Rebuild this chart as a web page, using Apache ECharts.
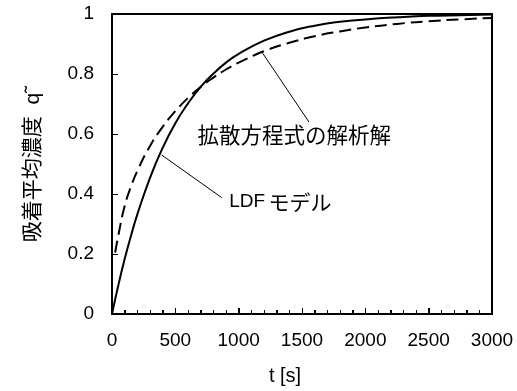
<!DOCTYPE html>
<html>
<head>
<meta charset="utf-8">
<script src="https://cdn.jsdelivr.net/npm/echarts@6/dist/echarts.min.js"></script>
<style>
html,body{margin:0;padding:0;background:#fff;}
#chart{width:517px;height:391px;}
</style>
</head>
<body>
<div id="chart"></div>
<script>
// time values [s]
const ldfTime = [0, 50, 100, 150, 200, 300, 400, 500, 600, 700, 800, 900, 1000, 1200, 1400, 1600, 1800, 2000, 2250, 2500, 2750, 3000];
// LDF model (solid)
const ldfValues = [0, 0.096, 0.183, 0.261, 0.332, 0.454, 0.554, 0.636, 0.702, 0.757, 0.801, 0.838, 0.867, 0.911, 0.941, 0.961, 0.974, 0.982, 0.989, 0.994, 0.996, 0.998];
// analytic solution of diffusion equation (dashed)
const diffTime = [25, 50, 100, 150, 200, 300, 400, 500, 600, 700, 800, 900, 1000, 1200, 1400, 1600, 1800, 2000, 2250, 2500, 2750, 3000];
const diffValues = [0.205, 0.262, 0.36, 0.425, 0.477, 0.56, 0.624, 0.676, 0.72, 0.757, 0.788, 0.815, 0.838, 0.876, 0.904, 0.926, 0.942, 0.955, 0.967, 0.976, 0.982, 0.987];
// tick settings
const xTicks = [0, 500, 1000, 1500, 2000, 2500, 3000];
const yTicks = [0, 0.2, 0.4, 0.6, 0.8, 1];
const xMinorPerMajor = 5;
// annotation texts and anchors (data coordinates)
const diffLabel = '拡散方程式の解析解';
const ldfLabel = 'LDF モデル';
const diffLeader = [[1190, 0.869], [1555, 0.640]];
const ldfLeader = [[392, 0.530], [866, 0.388]];
const diffLabelAt = [671, 0.597];
const ldfLabelAt = [922, 0.373];

const pair = (ts, vs) => ts.map((t, i) => [t, vs[i]]);
const latin = 'Arial, "Liberation Sans", sans-serif';
const cjk = '"Liberation Sans", "Noto Sans CJK JP", sans-serif';
const xMin = xTicks[0], xMax = xTicks[xTicks.length - 1];
const yMin = yTicks[0], yMax = yTicks[yTicks.length - 1];

const chart = echarts.init(document.getElementById('chart'));
chart.setOption({
  animation: false,
  grid: {left: 112, right: 25, top: 14, bottom: 77, show: true, borderColor: '#000', borderWidth: 2, backgroundColor: 'transparent'},
  xAxis: {
    type: 'value', min: xMin, max: xMax, interval: 500,
    name: 't [s]', nameLocation: 'middle', nameGap: 52,
    nameTextStyle: {fontFamily: latin, fontSize: 20, color: '#000', padding: [0, 34, 0, 0]},
    axisLine: {show: true, onZero: false, lineStyle: {color: '#000', width: 2}},
    axisTick: {show: true, inside: true, length: 6, lineStyle: {color: '#000', width: 1}},
    minorTick: {show: true, splitNumber: 5, length: 4, lineStyle: {color: '#000', width: 1}},
    axisLabel: {fontFamily: latin, fontSize: 19, color: '#000', margin: 17, formatter: v => String(v)},
    splitLine: {show: false}
  },
  yAxis: {
    type: 'value', min: yMin, max: yMax, interval: 0.2,
    name: '吸着平均濃度  q˜', nameLocation: 'middle', nameGap: 68, nameRotate: 90,
    nameTextStyle: {fontFamily: cjk, fontSize: 21, color: '#000'},
    axisLine: {show: true, onZero: false, lineStyle: {color: '#000', width: 2}},
    axisTick: {show: true, inside: true, length: 6, lineStyle: {color: '#000', width: 1}},
    axisLabel: {fontFamily: latin, fontSize: 19, color: '#000', margin: 18, formatter: v => String(Math.round(v * 10) / 10)},
    splitLine: {show: false}
  },
  series: [
    {
      type: 'line', name: 'LDF', data: pair(ldfTime, ldfValues), smooth: true, showSymbol: false,
      lineStyle: {color: '#000', width: 2}, z: 3,
      markLine: {
        silent: true, symbol: ['none', 'none'], label: {show: false},
        lineStyle: {color: '#000', width: 1, type: 'solid'},
        data: [
          [{coord: diffLeader[0]}, {coord: diffLeader[1]}],
          [{coord: ldfLeader[0]}, {coord: ldfLeader[1]}]
        ]
      },
      markPoint: {
        silent: true,
        symbol: 'circle', symbolSize: 1, itemStyle: {color: 'rgba(0,0,0,0)'},
        data: [
          {coord: diffLabelAt, label: {show: true, position: 'right', distance: 0, formatter: diffLabel,
            fontFamily: '"Noto Sans CJK JP", sans-serif', fontSize: 21.5, color: '#000'}},
          {coord: ldfLabelAt, label: {show: true, position: 'right', distance: 0,
            formatter: '{a|LDF} {b|モデル}',
            rich: {
              a: {fontFamily: latin, fontSize: 19, color: '#000'},
              b: {fontFamily: '"Noto Sans CJK JP", sans-serif', fontSize: 21, color: '#000'}
            }}}
        ]
      }
    },
    {
      type: 'line', name: 'diffusion', data: pair(diffTime, diffValues), smooth: true, showSymbol: false,
      lineStyle: {color: '#000', width: 2, type: [12, 6]}, z: 2
    }
  ]
});

// Inward tick marks placed through the axes' own scales (backup in case axis ticks are not drawn)
function buildTicks() {
  const px = v => chart.convertToPixel({xAxisIndex: 0}, v);
  const py = v => chart.convertToPixel({yAxisIndex: 0}, v);
  const x0 = Math.round(px(xMin)), y0 = Math.round(py(yMin));
  const els = [];
  const seg = (x1, y1, x2, y2) => els.push({
    type: 'line', silent: true, z: 100,
    shape: {x1: x1, y1: y1, x2: x2, y2: y2},
    style: {stroke: '#000', lineWidth: 1}
  });
  xTicks.forEach((t, i) => {
    const x = Math.round(px(t)) + 0.5;
    seg(x, y0, x, y0 - 6);
    if (i < xTicks.length - 1) {
      const step = (xTicks[i + 1] - t) / xMinorPerMajor;
      for (let k = 1; k < xMinorPerMajor; k++) {
        const xm = Math.round(px(t + k * step)) + 0.5;
        seg(xm, y0, xm, y0 - 4);
      }
    }
  });
  yTicks.forEach(v => {
    const y = Math.round(py(v)) + 0.5;
    seg(x0, y, x0 + 6, y);
  });
  chart.setOption({graphic: {elements: els}});
}
buildTicks();
</script>
</body>
</html>
